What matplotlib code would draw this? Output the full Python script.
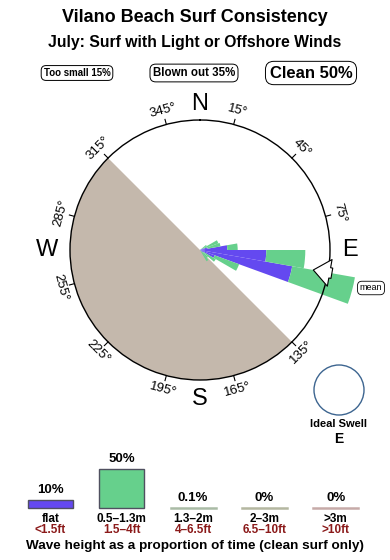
import numpy as np
import matplotlib
matplotlib.use("Agg")
import matplotlib.pyplot as plt
from matplotlib.patches import Circle

plt.rcParams['font.family'] = ['Liberation Sans', 'DejaVu Sans']

# rose data: bin centres (deg), flat part and 0.5-1.3m part (fraction of circle radius)
bin_dirs = [55, 65, 75, 85, 95, 105, 115, 125, 135, 145]
flat_len = [0.0, 0.03, 0.06, 0.21, 0.51, 0.72, 0.12, 0.03, 0.0, 0.0]
small_len = [0.06, 0.12, 0.10, 0.08, 0.30, 0.49, 0.20, 0.11, 0.08, 0.10]
bin_width = 10
mean_dir = 100

# legend data
cats = ["flat", "0.5\u20131.3m", "1.3\u20132m", "2\u20133m", ">3m"]
cats_ft = ["<1.5ft", "1.5\u20134ft", "4\u20136.5ft", "6.5\u201310ft", ">10ft"]
pcts = [10, 50, 0.1, 0, 0]
pct_labels = ["10%", "50%", "0.1%", "0%", "0%"]
cat_colors = ["#6449f0", "#66d08c", "#a9bba5", "#b4b7a0", "#c6aaa8"]

deg_ticks = [15, 45, 75, 135, 165, 195, 225, 255, 285, 315, 345]

fig = plt.figure(figsize=(3.9, 5.6), dpi=100)
bg = fig.add_axes([0, 0, 1, 1])
bg.set_xlim(0, 390)
bg.set_ylim(560, 0)
bg.axis("off")

bg.text(195, 18, "Vilano Beach Surf Consistency", ha="center", va="center",
        fontsize=13, fontweight="bold")
bg.text(195, 42, "July: Surf with Light or Offshore Winds", ha="center", va="center",
        fontsize=11.3, fontweight="bold")

box = dict(boxstyle="round,pad=0.25,rounding_size=0.5", fc="white", ec="black", lw=0.7)
bg.text(77, 73, "Too small 15%", ha="center", va="center", fontsize=7,
        fontweight="bold", bbox=box)
bg.text(194, 73, "Blown out 35%", ha="center", va="center", fontsize=8.3,
        fontweight="bold", bbox=box)
bg.text(311, 73, "Clean 50%", ha="center", va="center", fontsize=12, fontweight="bold",
        bbox=dict(boxstyle="round,pad=0.25,rounding_size=0.5", fc="white", ec="black", lw=0.7))

# ideal swell
bg.add_patch(Circle((339, 390), 25, fill=False, ec="#3d6590", lw=1))
bg.text(339, 424, "Ideal Swell", ha="center", va="center", fontsize=8, fontweight="bold")
bg.text(339, 439, "E", ha="center", va="center", fontsize=10, fontweight="bold")

# legend bars
xs = 50.5 + 71.3 * np.arange(len(cats))
base = 508
scale = 0.78
for x, p, c, lab, cm, cf in zip(xs, pcts, cat_colors, pct_labels, cats, cats_ft):
    h = p * scale
    if h >= 1:
        bg.bar(x, -h, bottom=base, width=45, color=c, edgecolor="#505060", lw=1)
    else:
        bg.plot([x - 22.5, x + 22.5], [base, base], color=c, lw=1.8)
    bg.text(x, base - h - 10, lab, ha="center", va="center", fontsize=9.5,
            fontweight="bold")
    bg.text(x, 519, cm, ha="center", va="center", fontsize=8.5, fontweight="bold")
    bg.text(x, 530, cf, ha="center", va="center", fontsize=8.5, color="#8b1a1a",
            fontweight="bold")
bg.text(195, 546, "Wave height as a proportion of time (clean surf only)",
        ha="center", va="center", fontsize=9.7, fontweight="bold")

# rose
ax = fig.add_axes([70 / 390, 1 - 380 / 560, 260 / 390, 260 / 560], projection="polar")
ax.set_theta_zero_location("N")
ax.set_theta_direction(-1)
ax.set_ylim(0, 1)
ax.set_xticks([])
ax.set_yticks([])
ax.grid(False)
ax.spines["polar"].set_linewidth(1)
ax.set_facecolor("white")

ax.bar(np.radians(225), 1, width=np.pi, color="#c4b8ac", zorder=1)

th = np.radians(bin_dirs)
w = np.radians(bin_width)
ax.bar(th, flat_len, width=w, color=cat_colors[0], zorder=2, clip_on=False, lw=0)
ax.bar(th, small_len, bottom=flat_len, width=w, color=cat_colors[1], zorder=2,
       clip_on=False, lw=0)

for d in deg_ticks:
    t = np.radians(d)
    ax.plot([t, t], [1, 1.04], color="black", lw=0.8, clip_on=False)
    rot = -d
    while rot <= -90:
        rot += 180
    ax.text(t, 1.11, f"{d}\u00b0", ha="center", va="center", rotation=rot,
            rotation_mode="anchor", fontsize=9.5, clip_on=False)

for lab, d, r in [("N", 0, 1.12), ("E", 90, 1.15), ("S", 180, 1.15), ("W", 270, 1.18)]:
    ax.text(np.radians(d), r, lab, ha="center", va="center", fontsize=17, clip_on=False)

tm = np.radians(mean_dir)
ax.annotate("", xy=(tm, 0.885), xytext=(tm, 1.03), annotation_clip=False,
            arrowprops=dict(arrowstyle="simple,head_length=0.8,head_width=1.3,tail_width=0.5",
                            fc="white", ec="black", lw=0.8, mutation_scale=15,
                            shrinkA=0, shrinkB=0), zorder=4)

bg.text(371, 288, "mean", ha="center", va="center", fontsize=6.5,
        bbox=dict(boxstyle="round,pad=0.25,rounding_size=0.5", fc="white", ec="black", lw=0.6),
        zorder=5)

fig.savefig("out.png", dpi=100)
